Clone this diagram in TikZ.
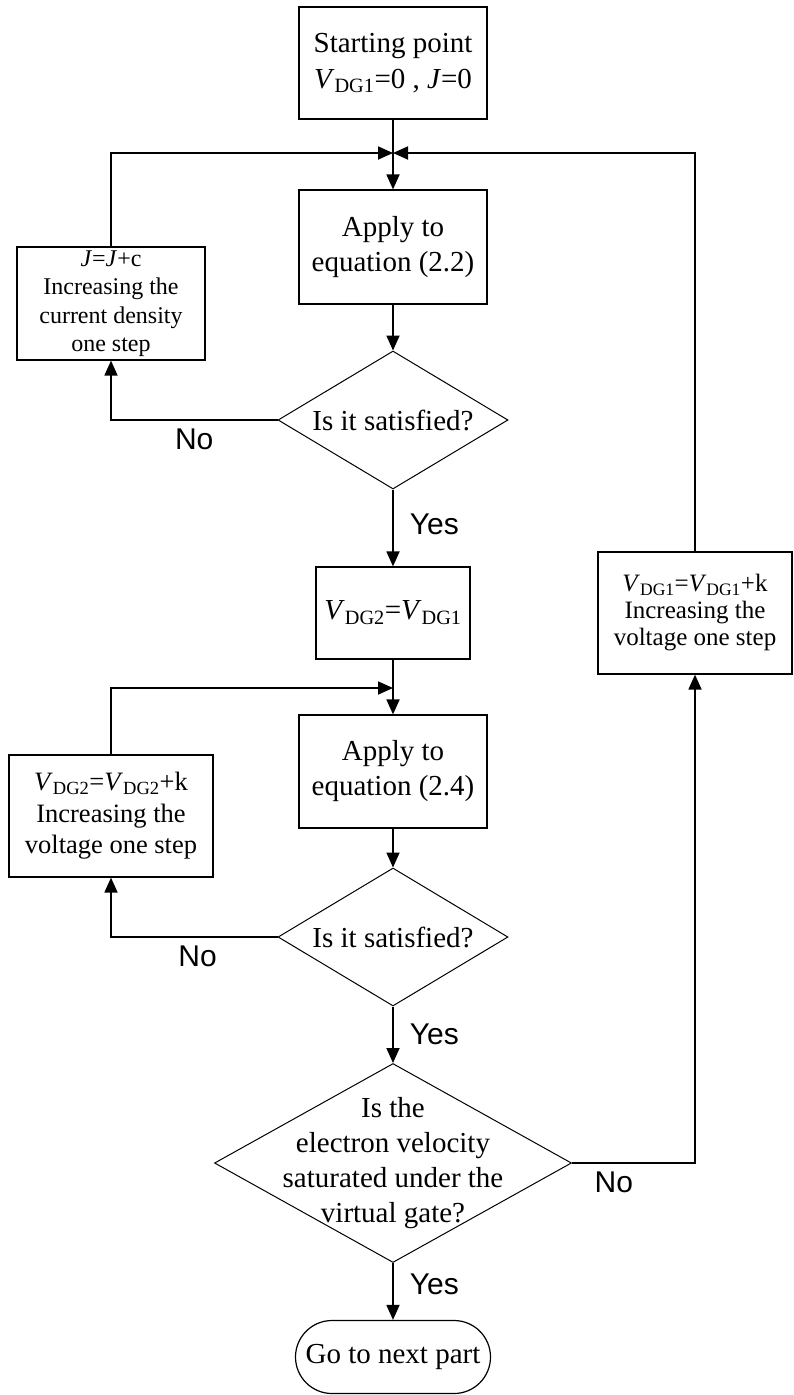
\documentclass[tikz,border=0pt]{standalone}
\usepackage{fontspec}
\setmainfont{Liberation Serif}
\newfontfamily\labelsans{Liberation Sans}
\usetikzlibrary{arrows.meta,shapes.geometric,shapes.misc}
\tikzset{
  >={Triangle[length=15pt,width=13pt]},
  box/.style={draw,line width=1.2pt,inner sep=0pt,minimum width=188pt,
    minimum height=113pt,align=center,font=\fontsize{29}{35}\selectfont},
  decision/.style={diamond,draw,line width=1pt,inner sep=0pt,
    minimum width=230pt,minimum height=138pt},
  qtext/.style={align=center,inner sep=0pt,font=\fontsize{29}{35}\selectfont},
  terminal/.style={rounded rectangle,draw,line width=1.2pt,inner sep=0pt,
    minimum width=195pt,minimum height=73pt,font=\fontsize{29}{35}\selectfont},
  flow/.style={->,line width=1.8pt},
  tag/.style={font=\labelsans\fontsize{30}{36}\selectfont,inner sep=2pt},
}
\newcommand{\Vdg}[1]{\textit{V}\textsubscript{DG#1}}

\begin{document}
\begin{tikzpicture}[x=1pt,y=-1pt]
  \useasboundingbox (0,0) rectangle (793,1395);
  % main column
  \node[box,minimum height=112pt,font=\fontsize{29}{36}\selectfont] (start) at (393,63) {Starting point\\\Vdg{1}=0 , \textit{J}=0};
  \node[box,minimum height=114pt] (eqa) at (393,247) {Apply to\\equation (2.2)};
  \node[decision,label={[qtext]center:Is it satisfied?}] (check1) at (393,420) {};
  \node[box,minimum width=154pt,minimum height=92pt] (vset) at (393,613) {\Vdg{2}=\Vdg{1}};
  \node[box] (eqb) at (393,771.5) {Apply to\\equation (2.4)};
  \node[decision,label={[qtext]center:Is it satisfied?}] (check2) at (393,937) {};
  \node[decision,minimum width=357pt,minimum height=199pt,
    label={[qtext]center:{Is the\\electron velocity\\saturated under the\\virtual gate?}}] (sat) at (393,1163) {};
  \node[terminal] (done) at (393,1357) {Go to next part};
  % side boxes
  \node[box,font=\fontsize{24}{28.5}\selectfont] (incj) at (111,303.5) {\textit{J}=\textit{J}+c\\Increasing the\\current density\\one step};
  \node[box,minimum width=204pt,minimum height=122pt,font=\fontsize{26.5}{31.5}\selectfont] (incv2) at (111,816) {\Vdg{2}=\Vdg{2}+k\\Increasing the\\voltage one step};
  \node[box,minimum width=194pt,minimum height=122pt,font=\fontsize{25}{27}\selectfont] (incv1) at (695,613) {\Vdg{1}=\Vdg{1}+k\\Increasing the\\voltage one step};
  \coordinate (j1) at (393,153);
  \coordinate (j2) at (393,688);
  % connectors
  \draw[flow] (start) -- (eqa);
  \draw[flow] (incj.north) |- (j1);
  \draw[flow] (incv1.north) |- (j1);
  \draw[flow] (eqa) -- (check1);
  \draw[flow] (check1.west) -| node[tag,below=6pt,pos=0.25] {No} (incj.south);
  \draw[flow] (check1.south) -- node[tag,right=14pt,pos=0.45] {Yes} (vset.north);
  \draw[flow] (vset) -- (eqb);
  \draw[flow] (incv2.north) |- (j2);
  \draw[flow] (eqb) -- (check2);
  \draw[flow] (check2.west) -| node[tag,below=6pt,pos=0.24] {No} (incv2.south);
  \draw[flow] (check2.south) -- node[tag,right=14pt,pos=0.5] {Yes} (sat.north);
  \draw[flow] (sat.east) -| node[tag,below=6pt,pos=0.17] {No} (incv1.south);
  \draw[flow] (sat.south) -- node[tag,right=14pt,pos=0.38] {Yes} (done.north);
\end{tikzpicture}
\end{document}
